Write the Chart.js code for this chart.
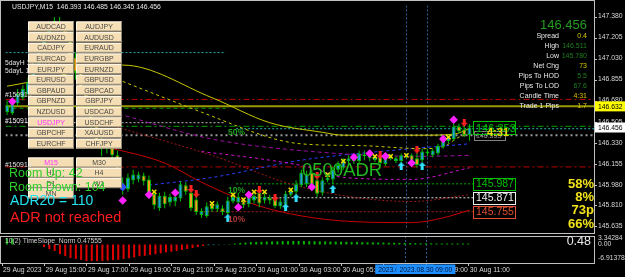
<!DOCTYPE html>
<html>
<head>
<meta charset="utf-8">
<script src="https://cdn.jsdelivr.net/npm/chart.js@4.4.1/dist/chart.umd.min.js"></script>
<style>
  html, body { margin: 0; padding: 0; background: #000; overflow: hidden; }
  #wrap { position: relative; width: 625px; height: 277px; background: #000; }
  #main { position: absolute; left: 0; top: 0; }
  #ind { position: absolute; left: 0; top: 234px; }
</style>
</head>
<body>
<div id="wrap">
  <canvas id="main" width="625" height="234"></canvas>
  <canvas id="ind" width="625" height="43"></canvas>
</div>
<script>
// ---- data (USDJPY M15, bar 0 = 29 Aug 13:00) ----
const opens = [146.584,146.576,146.656,146.704,146.736,146.832,146.960,147.096,147.200,147.288,147.336,147.304,147.200,147.040,146.920,146.776,146.640,146.480,146.280,146.336,146.320,146.224,145.936,145.944,146.016,146.024,146.056,146.024,145.904,145.784,145.888,145.832,145.840,145.864,145.976,145.912,145.856,145.728,145.720,145.816,145.776,145.784,145.744,145.840,145.832,145.848,145.816,145.848,145.912,145.848,145.872,145.856,145.800,145.816,145.896,145.920,145.976,145.984,146.080,146.016,145.912,146.016,146.024,146.104,146.120,146.176,146.200,146.176,146.216,146.232,146.184,146.216,146.152,146.200,146.176,146.176,146.216,146.224,146.200,146.184,146.256,146.224,146.240,146.296,146.344,146.360,146.464,146.440,146.393];
const highs = [146.680,146.704,146.776,146.808,146.872,147.000,147.128,147.240,147.336,147.376,147.376,147.336,147.240,147.080,146.952,146.800,146.680,146.520,146.376,146.360,146.360,146.264,146.040,146.072,146.104,146.088,146.080,146.056,145.912,145.912,145.920,145.904,145.912,146.008,146.000,145.928,145.888,145.784,145.832,145.832,145.840,145.808,145.880,145.896,145.912,145.872,145.912,145.920,145.936,145.912,145.896,145.880,145.864,145.928,145.952,146.016,146.104,146.096,146.104,146.040,146.040,146.064,146.128,146.176,146.200,146.224,146.216,146.264,146.264,146.248,146.224,146.224,146.224,146.232,146.216,146.240,146.240,146.240,146.248,146.280,146.280,146.280,146.320,146.360,146.392,146.511,146.488,146.472,146.485];
const lows = [146.560,146.560,146.632,146.680,146.720,146.808,146.936,147.064,147.176,147.256,147.272,147.176,147.000,146.856,146.744,146.600,146.440,146.280,146.216,146.240,146.200,145.960,145.896,145.920,145.984,146.000,145.976,145.864,145.776,145.760,145.784,145.800,145.800,145.840,145.896,145.760,145.728,145.704,145.704,145.752,145.752,145.728,145.720,145.824,145.808,145.784,145.792,145.824,145.792,145.824,145.816,145.784,145.780,145.800,145.880,145.896,145.960,145.960,145.960,145.880,145.888,146.000,145.984,146.080,146.104,146.152,146.152,146.160,146.184,146.176,146.168,146.136,146.136,146.184,146.160,146.160,146.200,146.152,146.120,146.168,146.216,146.208,146.224,146.280,146.328,146.344,146.408,146.376,146.345];
const closes = [146.640,146.680,146.736,146.776,146.832,146.960,147.096,147.200,147.288,147.344,147.304,147.200,147.040,146.920,146.776,146.640,146.480,146.320,146.336,146.280,146.224,146.000,145.992,146.040,146.064,146.064,146.008,145.896,145.808,145.888,145.816,145.880,145.880,145.984,145.920,145.784,145.752,145.760,145.800,145.776,145.816,145.752,145.848,145.880,145.880,145.808,145.880,145.888,145.824,145.880,145.848,145.800,145.840,145.904,145.928,145.984,146.080,146.064,145.984,145.904,146.016,146.040,146.104,146.144,146.184,146.200,146.176,146.240,146.232,146.200,146.208,146.160,146.208,146.216,146.200,146.224,146.224,146.184,146.144,146.256,146.240,146.264,146.304,146.344,146.376,146.464,146.424,146.392,146.456];

// TimeSlope_Norm histogram, one value per bar
const slopeVals = [0,3.2,3.2,0.1,0.1,0.1,0.1,0.1,-1.3,-2.3,-3.3,-4.9,-5.9,-6.9,-7.4,-7.9,-8.5,-8.5,-8.5,-8.4,-8.3,-8.0,-7.8,-7.4,-7.0,-6.6,-6.0,-5.8,-5.4,-5.0,-4.5,-4.0,-3.7,-3.3,-2.8,-2.3,-1.8,-1.3,-0.8,-0.4,-0.3,-0.2,-0.1,0.2,0.5,0.8,1.0,1.2,1.3,1.4,1.5,1.6,1.6,1.7,1.7,1.8,1.8,1.8,1.7,1.7,1.6,1.6,1.5,1.5,1.4,1.4,1.3,1.3,1.2,1.1,1.1,1.0,1.0,0.9,0.9,0.8,0.8,0.7,0.7,0.6,0.6,0.6,0.5,0.5,0.5,0.5,0.5,0.5,0.47555];

// indicator curves (bar index, price)
const yellowMaBars = [0, 5, 22, 39, 50, 60, 64, 79, 85, 88];
const yellowMaVals = [146.800, 146.840, 146.976, 146.704, 146.496, 146.416, 146.392, 146.392, 146.400, 146.448];
const yellowDashBars = [22, 37, 51, 56, 68, 79, 83, 86, 88];
const yellowDashVals = [146.840, 146.584, 146.360, 146.320, 146.304, 146.280, 146.296, 146.376, 146.400];
const purpleBars = [20, 39, 58, 79, 88];
const purpleVals = [146.584, 146.360, 146.256, 146.216, 146.224];
const magentaBars = [37, 50, 58, 64, 77, 88];
const magentaVals = [146.256, 146.184, 146.120, 146.040, 146.024, 146.120];
const blueBars = [27, 39, 56, 77, 88];
const blueVals = [145.976, 146.040, 146.184, 146.280, 146.320];
const darkRedBars = [18, 39, 56, 77, 88];
const darkRedVals = [146.496, 146.224, 145.960, 145.840, 145.896];
const redBars = [18, 30, 37, 47, 56, 66, 77, 83, 88];
const redVals = [146.304, 146.160, 146.000, 145.816, 145.720, 145.672, 145.664, 145.704, 145.768];

// horizontal levels: price, first bar, last bar
const levelPrices = [147.080, 146.690, 146.632, 146.616, 146.496, 146.466, 146.446, 146.392, 146.128, 145.987, 145.871, 145.755];
const levelFrom   = [-0.3, -0.3, -0.3, -0.3, -0.3, -0.3, 43.6, -0.3, -0.3, 43.6, 46.5, 37.4];
const levelTo     = [41.6, 111.7, 111.7, 41.6, 41.6, 111.7, 111.7, 111.7, 111.7, 88.9, 88.9, 88.9];

// signal markers
const crossBars = [28, 39, 43, 45, 47, 49, 54, 61, 64, 70, 73, 76, 84];
const crossVals = [145.920, 145.824, 145.896, 145.856, 145.920, 145.920, 145.936, 146.064, 146.176, 146.216, 146.216, 146.224, 146.376];
const diamondBars = [1, 22, 27, 32, 44, 46, 58, 66, 69, 72, 77, 83, 85];
const diamondVals = [146.672, 145.848, 145.896, 145.912, 145.792, 145.896, 145.960, 146.208, 146.240, 146.216, 146.160, 146.360, 146.520];
const downBars = [35, 36, 48, 51, 59, 71, 78, 87];
const downVals = [145.944, 145.904, 145.936, 145.872, 146.056, 146.224, 146.272, 146.496];
const upBars = [42, 53, 55, 62, 75, 79];
const upVals = [145.704, 145.792, 145.872, 145.944, 146.136, 146.136];
const blueDotBars = [22];
const blueDotVals = [145.960];

// axes
const priceTicks = [147.380, 147.205, 147.030, 146.855, 146.680, 146.505, 146.330, 146.155, 145.980, 145.810, 145.635];
const slopeTicks = [3.34284, 0, -6.91378];
const slopeTickText = ['3.34284', '0.00', '-6.91378'];
const timeTickBars = [0, 8, 16, 24, 32, 40, 48, 56, 64, 72, 80, 88];
const timeTickLabels = ['29 Aug 2023', '29 Aug 15:00', '29 Aug 17:00', '29 Aug 19:00', '29 Aug 21:00', '29 Aug 23:00',
  '30 Aug 01:00', '30 Aug 03:00', '30 Aug 05:00', '30 Aug 07:00', '30 Aug 09:00', '30 Aug 11:00'];
const sepBars = [76, 80];
const sepLabels = ['2023.08.30 08:00', '2023.08.30 09:00'];

// info panel
const infoLabels = ['Spread', 'High', 'Low', 'Net Chg', 'Pips To HOD', 'Pips To LOD', 'Candle Time', 'Trade 1 Pips'];
const infoValues = ['0.4', '146.511', '145.780', '73', '5.5', '67.6', '4:31', '1.7'];
const statLabels = ['58%', '8%', '73p', '66%'];
const tagPrices = [145.987, 145.871, 145.755];

const pairRows = [['AUDCAD','AUDJPY'],['AUDNZD','AUDUSD'],['CADJPY','EURAUD'],['EURCAD','EURGBP'],['EURJPY','EURNZD'],
  ['EURUSD','GBPUSD'],['GBPAUD','GBPCAD'],['GBPNZD','GBPJPY'],['NZDUSD','USDCAD'],['USDJPY','USDCHF'],['GBPCHF','XAUUSD'],['EURCHF','CHFJPY']];
const tfRows = [['M15','M30'],['H1','H4'],['D1','W1'],['MN','']];

// ---- helpers ----
const FONT = '"Liberation Sans", Arial, sans-serif';
const X_MIN = -0.3, X_MAX = 111.7;

function pts(bars, vals) { return bars.map((b, i) => ({ x: b, y: vals[i] })); }

function txt(ctx, s, x, y, size, color, align, weight) {
  ctx.font = (weight || 'normal') + ' ' + size + 'px ' + FONT;
  ctx.fillStyle = color;
  ctx.textAlign = align || 'left';
  ctx.textBaseline = 'middle';
  ctx.fillText(s, x, y);
}

function arrowImg(color, down) {
  const c = document.createElement('canvas');
  c.width = 7; c.height = 8;
  const g = c.getContext('2d');
  g.fillStyle = color;
  g.beginPath();
  if (down) {
    g.moveTo(2, 0); g.lineTo(5, 0); g.lineTo(5, 4); g.lineTo(7, 4); g.lineTo(3.5, 8); g.lineTo(0, 4); g.lineTo(2, 4);
  } else {
    g.moveTo(3.5, 0); g.lineTo(7, 4); g.lineTo(5, 4); g.lineTo(5, 8); g.lineTo(2, 8); g.lineTo(2, 4); g.lineTo(0, 4);
  }
  g.closePath();
  g.fill();
  return c;
}

function button(ctx, x, y, w, h, label, color) {
  ctx.fillStyle = '#f5deb3';
  ctx.fillRect(x, y, w, h);
  ctx.lineWidth = 1;
  ctx.strokeStyle = '#fffaf0';
  ctx.beginPath(); ctx.moveTo(x + 0.5, y + h); ctx.lineTo(x + 0.5, y + 0.5); ctx.lineTo(x + w, y + 0.5); ctx.stroke();
  ctx.strokeStyle = '#8f8778';
  ctx.beginPath(); ctx.moveTo(x + w - 0.5, y); ctx.lineTo(x + w - 0.5, y + h - 0.5); ctx.lineTo(x, y + h - 0.5); ctx.stroke();
  if (label) txt(ctx, label, x + w / 2, y + h / 2 + 0.5, 7, color, 'center');
}

function dottedV(ctx, x, y0, y1) {
  ctx.save();
  ctx.strokeStyle = '#2a5d96';
  ctx.lineWidth = 1;
  ctx.setLineDash([2, 2]);
  ctx.beginPath(); ctx.moveTo(Math.round(x) + 0.5, y0); ctx.lineTo(Math.round(x) + 0.5, y1); ctx.stroke();
  ctx.restore();
}

// ---- datasets ----
const idx = closes.map((_, i) => i);
const bullFill = '#1ea3d6', bearFill = '#f5a020', edge = '#00c000';

const levelStyles = [
  { c: '#20b0b0', w: 1, d: [2, 2] },
  { c: '#c00000', w: 1, d: [6, 3, 2, 3] },
  { c: '#9a9a00', w: 2, d: [] },
  { c: '#00a000', w: 1, d: [4, 3] },
  { c: '#c0c0c0', w: 1, d: [2, 2] },
  { c: '#00a000', w: 1, d: [6, 3, 2, 3] },
  { c: '#20b0b0', w: 1, d: [2, 2] },
  { c: '#9a9a9a', w: 2, d: [2, 3] },
  { c: '#c00000', w: 1, d: [6, 3, 2, 3] },
  { c: '#00b000', w: 1, d: [2, 2] },
  { c: '#e0e0e0', w: 1, d: [2, 2] },
  { c: '#a02020', w: 1, d: [2, 2] }
];

function curve(bars, vals, color, dash, width) {
  return { type: 'line', data: pts(bars, vals), borderColor: color, borderWidth: width || 1, borderDash: dash,
    pointRadius: 0, cubicInterpolationMode: 'monotone', spanGaps: true, order: 3 };
}
function markers(bars, vals, style, color, radius, rot) {
  return { type: 'line', data: pts(bars, vals), showLine: false, pointStyle: style, pointRadius: radius,
    pointRotation: rot || 0, pointBackgroundColor: color, pointBorderColor: color, pointBorderWidth: 1.5, order: 0 };
}

const datasets = [
  markers(crossBars, crossVals, 'crossRot', '#f0e000', 3),
  markers(diamondBars, diamondVals, 'rectRot', '#ff20ff', 3.2),
  markers(downBars, downVals, arrowImg('#ff2020', true), '#ff2020', 4),
  markers(upBars, upVals, arrowImg('#30e0ff', false), '#30e0ff', 4),
  markers(blueDotBars, blueDotVals, 'rectRot', '#3050ff', 3),
  { type: 'bar', data: idx.map(i => ({ x: i, y: [opens[i], closes[i]] })), grouped: false, barThickness: 4,
    backgroundColor: idx.map(i => closes[i] >= opens[i] ? bullFill : bearFill), borderColor: edge, borderWidth: 1,
    borderSkipped: false, inflateAmount: 0, minBarLength: 1, order: 1 },
  { type: 'bar', data: idx.map(i => ({ x: i, y: [lows[i], highs[i]] })), grouped: false, barThickness: 1,
    backgroundColor: edge, borderWidth: 0, inflateAmount: 0, order: 2 },
  curve(yellowMaBars, yellowMaVals, '#c8c800', [], 1),
  curve(yellowDashBars, yellowDashVals, '#c8c800', [3, 3], 1),
  curve(purpleBars, purpleVals, '#9a10a0', [4, 3], 1),
  curve(magentaBars, magentaVals, '#d010d0', [3, 3], 1),
  curve(blueBars, blueVals, '#2a40ff', [3, 3], 1),
  curve(darkRedBars, darkRedVals, '#a01818', [2, 2], 1),
  curve(redBars, redVals, '#c80000', [], 1)
];
levelPrices.forEach((p, i) => {
  const s = levelStyles[i];
  datasets.push({ type: 'line', data: [{ x: levelFrom[i], y: p }, { x: levelTo[i], y: p }], borderColor: s.c,
    borderWidth: s.w, borderDash: s.d, pointRadius: 0, order: 4 });
});

// ---- main panel overlays ----
const mainPlugin = {
  id: 'mainOverlay',
  beforeDraw(chart) {
    const ctx = chart.ctx;
    ctx.save();
    ctx.fillStyle = '#000';
    ctx.fillRect(0, 0, chart.width, chart.height);
    ctx.restore();
  },
  beforeDatasetsDraw(chart) {
    const ctx = chart.ctx, xs = chart.scales.x, a = chart.chartArea;
    sepBars.forEach(b => dottedV(ctx, xs.getPixelForValue(b), a.top, a.bottom));
  },
  afterDraw(chart) {
    const ctx = chart.ctx, ys = chart.scales.y, a = chart.chartArea;
    ctx.save();

    // frame
    ctx.strokeStyle = '#c0c0c0';
    ctx.lineWidth = 1;
    ctx.strokeRect(0.5, 0.5, a.right, 233);

    // price axis
    priceTicks.forEach(p => {
      const y = ys.getPixelForValue(p);
      ctx.strokeStyle = '#c0c0c0';
      ctx.beginPath(); ctx.moveTo(a.right, Math.round(y) + 0.5); ctx.lineTo(a.right + 3, Math.round(y) + 0.5); ctx.stroke();
      txt(ctx, p.toFixed(3), a.right + 4, y, 6.8, '#d8d8d8');
    });
    const tagOnAxis = (p, bg) => {
      const y = ys.getPixelForValue(p);
      ctx.fillStyle = bg;
      ctx.fillRect(a.right + 1, y - 5, 30, 10);
      txt(ctx, p.toFixed(3), a.right + 4, y + 0.5, 6.8, '#000');
    };
    tagOnAxis(levelPrices[2], '#ffff00');
    tagOnAxis(closes[closes.length - 1], '#ffffff');

    // left side labels (under the panel)
    txt(ctx, '5dayH 147.377', 5, 63, 6.8, '#e0e0e0');
    txt(ctx, '5dayL 145.780', 5, 71, 6.8, '#e0e0e0');
    txt(ctx, '#150913', 5, 95, 6.8, '#e0e0e0');
    txt(ctx, '#150913', 5, 121, 6.8, '#e0e0e0');

    // symbol buttons
    pairRows.forEach((row, r) => {
      row.forEach((s, c) => {
        button(ctx, 28 + c * 48, 21.5 + r * 10.65, 46, 10, s, s === 'USDJPY' ? '#ff30ff' : '#4a4a4a');
      });
    });
    tfRows.forEach((row, r) => {
      row.forEach((s, c) => {
        if (s) button(ctx, 28 + c * 48, 157.5 + r * 10.3, 46, 10, s, s === 'M15' ? '#ff30ff' : '#4a4a4a');
      });
    });
    txt(ctx, '#150913', 5, 165, 6.8, '#e0e0e0');

    // ADR block
    txt(ctx, 'Room Up: 42', 9, 174, 12.5, '#2ed02e');
    txt(ctx, 'Room Down: 104', 9, 187.5, 12.5, '#2ed02e');
    txt(ctx, 'ADR20 = 110', 10, 201.5, 14, '#22e4f2');
    txt(ctx, 'ADR not reached', 10, 217.5, 14.5, '#ff1c1c');
    txt(ctx, '0500ADR', 302, 171, 18.5, '#22b822');

    // range markers
    txt(ctx, '50%', 228, 133, 8.5, '#20a020', 'left', 'bold');
    txt(ctx, '10%', 228, 191, 8.5, '#20a020', 'left', 'bold');
    txt(ctx, '10%', 228, 220, 8.5, '#b03a3a', 'left', 'bold');

    // title
    const last = closes.length - 1;
    txt(ctx, 'USDJPY,M15  ' + [opens[last], highs[last], lows[last], closes[last]].map(v => v.toFixed(3)).join(' '),
      12, 7, 6.8, '#e8e8e8');

    // info panel
    txt(ctx, closes[last].toFixed(3), 587, 25, 13, '#239b23', 'right');
    const yellowVals = ['0.4', '73', '4:31', '1.7'];
    infoLabels.forEach((l, i) => {
      const y = 36 + i * 10.05;
      txt(ctx, l, 559, y, 7, '#e8e8e8', 'right');
      txt(ctx, infoValues[i], 587, y, 7, yellowVals.includes(infoValues[i]) ? '#d8c400' : '#1f7f1f', 'right');
    });

    // price tags at the right of the candles
    ctx.lineWidth = 1;
    ctx.strokeStyle = '#808080';
    ctx.strokeRect(474.5, 131.5, 31, 9);
    txt(ctx, '146.353', 476, 136.5, 7, '#909090');
    ctx.strokeStyle = '#00c000';
    ctx.strokeRect(473.5, 121.5, 42, 13);
    txt(ctx, '146.353', 476, 128.5, 11, '#00c000');
    txt(ctx, '4:31', 487, 133, 11, '#e8d800', 'left', 'bold');
    const tagColors = ['#00c000', '#f0f0f0', '#e05030'];
    tagPrices.forEach((p, i) => {
      const y = Math.round(ys.getPixelForValue(p));
      ctx.strokeStyle = tagColors[i];
      ctx.strokeRect(473.5, y - 5.5, 42, 12);
      txt(ctx, p.toFixed(3), 476, y + 0.5, 10.5, tagColors[i]);
    });

    // stats
    statLabels.forEach((s, i) => txt(ctx, s, 594, 184 + i * 13.4, 13, '#f2e21a', 'right', 'bold'));

    ctx.restore();
  }
};

new Chart(document.getElementById('main'), {
  type: 'bar',
  data: { datasets },
  options: {
    responsive: false,
    animation: false,
    layout: { padding: { left: 0, right: 31, top: 1, bottom: 1 } },
    plugins: { legend: { display: false }, tooltip: { enabled: false } },
    scales: {
      x: { type: 'linear', display: false, min: X_MIN, max: X_MAX, offset: false },
      y: { type: 'linear', display: false, min: 145.615, max: 147.472 }
    }
  },
  plugins: [mainPlugin]
});

// ---- indicator panel ----
const indPlugin = {
  id: 'indOverlay',
  beforeDraw(chart) {
    const ctx = chart.ctx;
    ctx.save();
    ctx.fillStyle = '#000';
    ctx.fillRect(0, 0, chart.width, chart.height);
    ctx.restore();
  },
  beforeDatasetsDraw(chart) {
    const ctx = chart.ctx, xs = chart.scales.x, a = chart.chartArea;
    sepBars.forEach(b => dottedV(ctx, xs.getPixelForValue(b), a.top, a.bottom));
  },
  afterDraw(chart) {
    const ctx = chart.ctx, xs = chart.scales.x, ys = chart.scales.y, a = chart.chartArea;
    ctx.save();
    ctx.strokeStyle = '#c0c0c0';
    ctx.lineWidth = 1;
    ctx.strokeRect(0.5, a.top + 0.5, a.right, a.bottom - a.top);

    slopeTicks.forEach((v, i) => {
      const y = ys.getPixelForValue(v);
      txt(ctx, slopeTickText[i], a.right + 4, y, 6.8, '#d8d8d8');
    });
    const last = slopeVals[slopeVals.length - 1];
    txt(ctx, '10(2) TimeSlope_Norm ' + last, 5, 6.7, 6.8, '#d0d0d0');
    txt(ctx, last.toFixed(2), 591, 7.5, 12.5, '#e8e8e8', 'right');

    // time axis
    const ly = 36;
    timeTickBars.forEach((b, i) => {
      const x = xs.getPixelForValue(b);
      ctx.strokeStyle = '#c0c0c0';
      ctx.beginPath(); ctx.moveTo(Math.round(x) + 0.5, a.bottom); ctx.lineTo(Math.round(x) + 0.5, a.bottom + 3); ctx.stroke();
      txt(ctx, timeTickLabels[i], x + 1.5, ly, 6.8, '#d8d8d8');
    });
    sepBars.forEach((b, i) => {
      const x = xs.getPixelForValue(b);
      ctx.font = '6.8px ' + FONT;
      const w = ctx.measureText(sepLabels[i]).width + 6;
      ctx.fillStyle = '#1e8fff';
      ctx.fillRect(x - w / 2, 30.5, w, 9.5);
      txt(ctx, sepLabels[i], x, ly, 6.8, '#04122e', 'center');
    });
    ctx.restore();
  }
};

new Chart(document.getElementById('ind'), {
  type: 'bar',
  data: {
    datasets: [{
      data: idx.map(i => ({ x: i, y: slopeVals[i] })),
      backgroundColor: slopeVals.map(v => v < -0.5 ? '#e00000' : v < 0 ? '#109090' : '#00b400'),
      barThickness: 2,
      inflateAmount: 0,
      borderWidth: 0
    }]
  },
  options: {
    responsive: false,
    animation: false,
    layout: { padding: { left: 0, right: 31, top: 2, bottom: 14 } },
    plugins: { legend: { display: false }, tooltip: { enabled: false } },
    scales: {
      x: { type: 'linear', display: false, min: X_MIN, max: X_MAX, offset: false },
      y: { type: 'linear', display: false, min: -9.487, max: 4.359 }
    }
  },
  plugins: [indPlugin]
});
</script>
</body>
</html>
